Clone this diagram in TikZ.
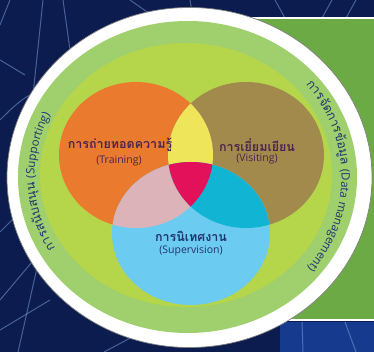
\documentclass[tikz,border=0pt]{standalone}
\usepackage{fontspec}
\usetikzlibrary{decorations.text}
\newfontfamily\thaifont[Script=Thai]{Loma}
\newfontfamily\latfont{Open Sans}
\definecolor{bgnavy}{HTML}{0C1C4E}
\definecolor{bgblue}{HTML}{163A8E}
\definecolor{bgline}{HTML}{7A9BD6}
\definecolor{rectgreen}{HTML}{6BAA44}
\definecolor{ringgreen}{HTML}{A0CF6E}
\definecolor{innergreen}{HTML}{B5D54A}
\definecolor{vorange}{HTML}{EA7A2E}
\definecolor{volive}{HTML}{A28A4D}
\definecolor{vblue}{HTML}{6CCBF0}
\definecolor{vyellow}{HTML}{EEE55A}
\definecolor{vmagenta}{HTML}{E3105A}
\definecolor{vpink}{HTML}{DBB3B8}
\definecolor{vcyan}{HTML}{12B4D4}
\definecolor{txtplum}{HTML}{4A2550}
\definecolor{txtnavy}{HTML}{1E3570}
\tikzset{
  bgstroke/.style={draw=bgline, line width=1pt, opacity=0.55},
  thlabel/.style={font=\thaifont\bfseries\fontsize{12.5}{12.5}\selectfont, inner sep=0pt},
  enlabel/.style={font=\latfont\fontsize{10.5}{11}\selectfont, inner sep=0pt},
}
\begin{document}
\begin{tikzpicture}[x=1pt,y=-1pt]
\useasboundingbox (0,0) rectangle (374,352);
% background
\fill[bgnavy] (0,0) rectangle (374,352);
\fill[bgblue] (280,322) rectangle (374,352);
\draw[bgstroke] (43,0) -- (33,95);
\draw[bgstroke] (63,0) -- (70,50);
\draw[bgstroke] (130,0) -- (150,14);
\draw[bgstroke] (190,0) -- (192,12);
\draw[bgstroke] (275,0) -- (285,18);
\draw[bgstroke] (332,0) -- (322,18);
\draw[bgstroke] (356,0) -- (346,18);
\draw[bgstroke] (0,120) .. controls (10,110) and (20,100) .. (30,95);
\draw[bgstroke] (0,60) -- (25,75);
\draw[bgstroke] (10,0) -- (0,25);
\draw[bgstroke] (37,268) -- (18,352);
\draw[bgstroke] (0,300) -- (32,262);
\draw[bgstroke] (0,232) -- (14,218);
\draw[bgstroke] (0,330) -- (50,300);
\draw[bgstroke] (104,352) -- (136,335);
\draw[bgstroke] (302,322) -- (303,352);
\draw[bgstroke] (345,322) -- (356,352);
% green panel
\fill[rectgreen] (240,18) rectangle (376,320);
\draw[white, line width=2.5pt] (240,18) -- (376,18);
\draw[white, line width=2.5pt] (240,320) -- (376,320);
% rings
\fill[white, draw=black!50, line width=0.7pt] (189.5,177.5) ellipse [x radius=182.5, y radius=170];
\fill[ringgreen] (187.5,177) ellipse [x radius=169.5, y radius=156];
\fill[innergreen] (186,175) ellipse [x radius=146, y radius=132];
% venn
\fill[vorange] (136,155) ellipse [x radius=77, y radius=73];
\fill[volive] (246,155) ellipse [x radius=78, y radius=73];
\fill[vblue] (191,233.5) ellipse [x radius=79, y radius=71.5];
\begin{scope}
  \clip (136,155) ellipse [x radius=77, y radius=73];
  \fill[vyellow] (246,155) ellipse [x radius=78, y radius=73];
  \fill[vpink] (191,233.5) ellipse [x radius=79, y radius=71.5];
\end{scope}
\begin{scope}
  \clip (246,155) ellipse [x radius=78, y radius=73];
  \fill[vcyan] (191,233.5) ellipse [x radius=79, y radius=71.5];
  \clip (136,155) ellipse [x radius=77, y radius=73];
  \fill[vmagenta] (191,233.5) ellipse [x radius=79, y radius=71.5];
\end{scope}
% labels
\node[thlabel, text=txtplum] (trainth) at (120,145) {การถ่ายทอดความรู้};
\node[enlabel, text=txtplum] (trainen) at (119,161) {(Training)};
\node[thlabel, text=txtplum] (visitth) at (257,145) {การเยี่ยมเยียน};
\node[enlabel, text=txtplum] (visiten) at (257,159) {(Visiting)};
\node[thlabel, text=txtnavy] (superth) at (191,236) {การนิเทศงาน};
\node[enlabel, text=txtnavy] (superen) at (191,251) {(Supervision)};
% ring texts
\path[decorate, decoration={text along path, text align=center,
  text={|\thaifont\fontsize{12.5}{13}\selectfont\color{txtnavy}|กา{ร}{ส}{นั}{บ}{ส}{นุ}{น} |\latfont\fontsize{11.5}{12}\selectfont\color{txtnavy}|(Supporting)}}]
  (189.5,177) ++(130:155 and 143) arc[start angle=130, end angle=226, x radius=155, y radius=143];
\path[decorate, decoration={text along path, text align=center,
  text={|\thaifont\fontsize{12.5}{13}\selectfont\color{txtnavy}|กา{ร}{จั}{ด}{ก}{า}{ร}{ข้}{อ}{มู}{ล} |\latfont\fontsize{11.5}{12}\selectfont\color{txtnavy}|(Data management)}}]
  (189.5,177) ++(-58:152 and 144) arc[start angle=-58, end angle=57, x radius=152, y radius=144];
\end{tikzpicture}
\end{document}
